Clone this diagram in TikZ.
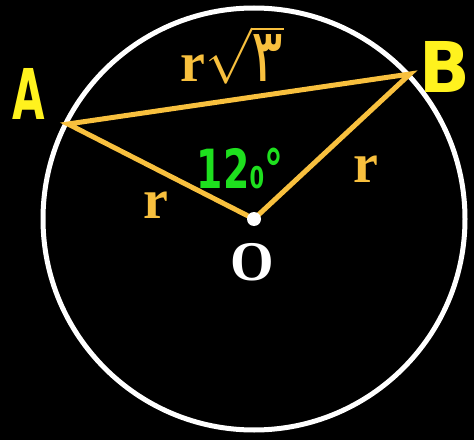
\documentclass[tikz,border=0pt]{standalone}
\usepackage{amsmath}
\usepackage{fontspec}
\usepackage{unicode-math}
\setmainfont{Liberation Serif}
\setmathfont{Latin Modern Math}
\newfontfamily\arabicfont[Script=Arabic]{DejaVu Sans}
\newfontfamily\handfont{DejaVu Sans}
\TeXXeTstate=1
\definecolor{segorange}{HTML}{F8C03E}
\definecolor{anglegreen}{HTML}{1EE01E}
\definecolor{ptyellow}{HTML}{FFF21E}
\usetikzlibrary{positioning}

\begin{document}
\begin{tikzpicture}[x=1pt,y=1pt,
  seg/.style={segorange,line width=5pt},
  rim/.style={white,line width=5pt},
  dot/.style={circle,fill=white,inner sep=0pt,minimum size=14pt},
  len/.style={font=\fontsize{56}{60}\selectfont\bfseries,text=segorange,inner sep=0pt,anchor=base},
  pt/.style={font=\handfont\fontsize{70}{74}\selectfont\bfseries,text=ptyellow,inner sep=0pt,anchor=base}]
  \fill[black] (0,0) rectangle (474,440);
  \useasboundingbox (0,0) rectangle (474,440);
  % circle and chord
  \coordinate (Oc) at (254,221);
  \coordinate (A) at (68,316);
  \coordinate (B) at (410,366);
  \draw[rim] (Oc) circle (211pt);
  \draw[seg] (A) -- (B) -- (Oc) -- cycle;
  \node[dot] (O) at (Oc) {};
  % lengths
  \node[len] (lAB) at (232,358)
    {r$\sqrt{\hbox{\scalebox{0.8}[1]{\arabicfont\mdseries\fontsize{74}{78}\selectfont\beginR ٣\endR}}}$};
  \node[len] (lOA) at (156,222) {r};
  \node[len] (lOB) at (366,258) {r};
  \node[len,text=white] (lO) at (252,160) {O};
  % angle and points
  \node[inner sep=0pt,anchor=base,xscale=0.7,text=anglegreen,
    font=\handfont\fontsize{54}{58}\selectfont\bfseries] (ang) at (240,252)
    {12{\fontsize{30}{32}\selectfont0}°};
  \node[pt,xscale=0.6] (lA) at (29,320) {A};
  \node[pt,xscale=0.95] (lB) at (445,347) {B};
\end{tikzpicture}
\end{document}
